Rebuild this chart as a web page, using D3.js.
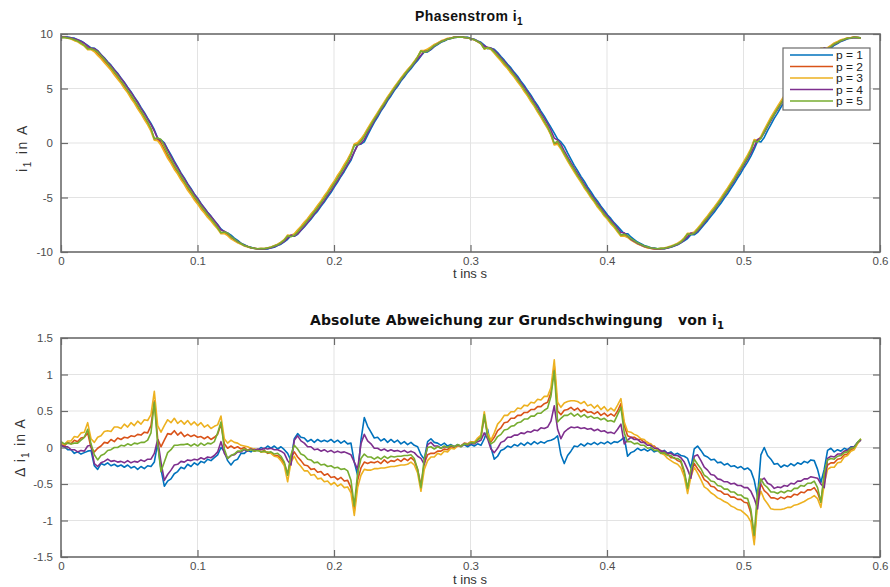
<!DOCTYPE html>
<html><head><meta charset="utf-8">
<script src="https://cdn.jsdelivr.net/npm/d3@7"></script>
<style>
body{margin:0;background:#fff;}
svg text{font-family:"Liberation Sans", Arial, Helvetica, sans-serif;}
</style></head><body>
<svg id="c" width="890" height="587"></svg>
<script>
// ---------- data ----------
const sampleStep = 0.293 / 120;   // s, sample spacing of the recorded curves
// fundamental (Grundschwingung) of i1 in A
const grund = [
 9.75,9.74,9.70,9.63,9.54,9.42,9.27,9.10,8.91,8.69,8.44,8.18,7.89,7.58,7.25,6.89,6.52,6.14,5.73,5.31,4.88,4.43,3.97,3.49,3.01,2.52,2.03,1.53,1.02,0.51,0.00,
 -0.51,-1.02,-1.53,-2.03,-2.52,-3.01,-3.49,-3.97,-4.43,-4.88,-5.31,-5.73,-6.14,-6.52,-6.89,-7.25,-7.58,-7.89,-8.18,-8.44,-8.69,-8.91,-9.10,-9.27,-9.42,-9.54,-9.63,-9.70,-9.74,-9.75,
 -9.74,-9.70,-9.63,-9.54,-9.42,-9.27,-9.10,-8.91,-8.69,-8.44,-8.18,-7.89,-7.58,-7.25,-6.89,-6.52,-6.14,-5.73,-5.31,-4.88,-4.43,-3.97,-3.49,-3.01,-2.52,-2.03,-1.53,-1.02,-0.51,0.00,
 0.51,1.02,1.53,2.03,2.52,3.01,3.49,3.97,4.43,4.88,5.31,5.73,6.14,6.52,6.89,7.25,7.58,7.89,8.18,8.44,8.69,8.91,9.10,9.27,9.42,9.54,9.63,9.70,9.74,9.75,
 9.74,9.70,9.63,9.54,9.42,9.27,9.10,8.91,8.69,8.44,8.18,7.89,7.58,7.25,6.89,6.52,6.14,5.73,5.31,4.88,4.43,3.97,3.49,3.01,2.52,2.03,1.53,1.02,0.51,0.00,
 -0.51,-1.02,-1.53,-2.03,-2.52,-3.01,-3.49,-3.97,-4.43,-4.88,-5.31,-5.73,-6.14,-6.52,-6.89,-7.25,-7.58,-7.89,-8.18,-8.44,-8.69,-8.91,-9.10,-9.27,-9.42,-9.54,-9.63,-9.70,-9.74,-9.75,
 -9.74,-9.70,-9.63,-9.54,-9.42,-9.27,-9.10,-8.91,-8.69,-8.44,-8.18,-7.89,-7.58,-7.25,-6.89,-6.52,-6.14,-5.73,-5.31,-4.88,-4.43,-3.97,-3.49,-3.01,-2.52,-2.03,-1.53,-1.02,-0.51,0.00,
 0.51,1.02,1.53,2.03,2.52,3.01,3.49,3.97,4.43,4.88,5.31,5.73,6.14,6.52,6.89,7.25,7.58,7.89,8.18,8.44,8.69,8.91,9.10,9.27,9.42,9.54,9.63,9.70,9.74,9.75
];
// deviation from the fundamental (Grundschwingung - i1) in A, per p
const dev_p1 = [
 0.03,0.01,-0.03,-0.03,-0.08,-0.06,-0.09,-0.07,-0.05,-0.04,
 -0.25,-0.30,-0.22,-0.24,-0.21,-0.25,-0.23,-0.26,-0.24,-0.27,
 -0.24,-0.28,-0.26,-0.30,-0.26,-0.29,-0.25,-0.26,-0.20,0.06,
 -0.30,-0.53,-0.46,-0.43,-0.36,-0.33,-0.27,-0.29,-0.23,-0.26,
 -0.21,-0.24,-0.19,-0.21,-0.16,-0.18,-0.14,-0.10,0.00,-0.05,
 -0.18,-0.24,-0.18,-0.16,-0.08,-0.08,-0.04,-0.06,-0.02,-0.04,
 0.00,-0.02,0.02,-0.01,0.02,-0.02,0.01,-0.03,-0.08,-0.18,
 0.12,0.19,0.14,0.13,0.08,0.11,0.07,0.11,0.08,0.10,
 0.08,0.11,0.07,0.10,0.06,0.09,0.05,0.06,-0.20,-0.38,
 0.10,0.41,0.29,0.21,0.13,0.14,0.09,0.12,0.07,0.11,
 0.07,0.10,0.05,0.08,0.04,0.07,0.03,0.01,-0.10,-0.16,
 0.08,0.12,0.07,0.06,0.03,0.06,0.02,0.04,0.01,0.04,
 0.01,0.04,0.01,0.04,0.02,0.05,0.03,0.12,0.25,0.00,
 -0.16,-0.12,-0.04,-0.02,0.02,0.00,0.04,0.02,0.06,0.03,
 0.07,0.04,0.08,0.05,0.08,0.06,0.09,0.10,0.12,0.16,
 -0.10,-0.22,-0.11,-0.05,0.02,0.01,0.05,0.02,0.06,0.04,
 0.07,0.04,0.07,0.05,0.08,0.05,0.08,0.07,0.10,0.14,
 -0.12,-0.07,-0.05,-0.01,-0.04,-0.02,-0.05,-0.02,-0.06,-0.04,
 -0.07,-0.04,-0.08,-0.06,-0.10,-0.08,-0.11,-0.12,-0.15,-0.28,
 -0.02,0.02,-0.04,-0.11,-0.13,-0.17,-0.16,-0.21,-0.20,-0.24,
 -0.22,-0.26,-0.25,-0.28,-0.26,-0.30,-0.28,-0.32,-0.45,-0.68,
 -0.10,0.00,-0.11,-0.16,-0.23,-0.22,-0.27,-0.24,-0.26,-0.22,
 -0.25,-0.21,-0.23,-0.19,-0.21,-0.17,-0.18,-0.30,-0.48,-0.30,
 -0.04,-0.01,-0.06,-0.03,-0.05,-0.01,-0.03,0.01,0.01,0.07,0.10
];
const dev_p2 = [
 0.04,0.02,0.07,0.05,0.10,0.08,0.13,0.14,0.20,0.00,
 -0.06,-0.01,0.02,0.07,0.06,0.11,0.08,0.13,0.11,0.14,
 0.13,0.16,0.15,0.18,0.17,0.21,0.20,0.30,0.64,0.12,
 0.01,0.10,0.19,0.18,0.23,0.17,0.21,0.15,0.18,0.15,
 0.17,0.14,0.15,0.12,0.15,0.11,0.14,0.18,0.32,0.05,
 -0.01,0.02,-0.01,0.01,-0.02,0.00,-0.04,-0.01,-0.05,-0.03,
 -0.06,-0.04,-0.08,-0.07,-0.11,-0.11,-0.15,-0.22,-0.36,-0.15,
 -0.06,-0.13,-0.18,-0.24,-0.25,-0.30,-0.29,-0.34,-0.33,-0.38,
 -0.36,-0.41,-0.40,-0.44,-0.41,-0.46,-0.45,-0.55,-0.87,-0.45,
 -0.28,-0.20,-0.22,-0.20,-0.21,-0.19,-0.22,-0.17,-0.21,-0.18,
 -0.19,-0.16,-0.19,-0.15,-0.18,-0.14,-0.18,-0.30,-0.52,-0.22,
 -0.10,-0.08,-0.08,-0.05,-0.05,-0.02,-0.03,0.01,0.00,0.03,
 0.02,0.06,0.05,0.08,0.07,0.11,0.14,0.42,0.18,0.08,
 0.14,0.23,0.27,0.34,0.35,0.40,0.40,0.44,0.44,0.48,
 0.48,0.52,0.52,0.56,0.56,0.60,0.62,0.75,1.12,0.50,
 0.45,0.51,0.52,0.55,0.51,0.54,0.49,0.52,0.48,0.49,
 0.46,0.49,0.44,0.47,0.43,0.46,0.43,0.50,0.60,0.30,
 0.16,0.14,0.14,0.11,0.11,0.07,0.07,0.02,0.02,-0.03,
 -0.04,-0.09,-0.09,-0.14,-0.14,-0.18,-0.20,-0.35,-0.56,-0.35,
 -0.22,-0.29,-0.35,-0.44,-0.47,-0.53,-0.54,-0.59,-0.60,-0.64,
 -0.64,-0.68,-0.68,-0.71,-0.71,-0.75,-0.76,-0.90,-1.27,-0.70,
 -0.50,-0.59,-0.63,-0.69,-0.69,-0.71,-0.68,-0.70,-0.67,-0.68,
 -0.64,-0.65,-0.61,-0.62,-0.58,-0.58,-0.55,-0.62,-0.75,-0.40,
 -0.24,-0.21,-0.21,-0.16,-0.15,-0.10,-0.09,-0.03,-0.01,0.06,0.11
];
const dev_p3 = [
 0.06,0.04,0.09,0.09,0.15,0.14,0.20,0.21,0.34,0.12,
 0.07,0.14,0.16,0.22,0.23,0.22,0.28,0.28,0.26,0.32,
 0.28,0.34,0.30,0.36,0.32,0.38,0.37,0.45,0.77,0.30,
 0.21,0.30,0.38,0.34,0.40,0.33,0.37,0.32,0.37,0.31,
 0.35,0.30,0.34,0.28,0.31,0.26,0.29,0.31,0.43,0.12,
 0.06,0.10,0.07,0.06,0.03,0.02,0.01,-0.01,-0.02,-0.03,
 -0.06,-0.06,-0.06,-0.08,-0.12,-0.13,-0.18,-0.25,-0.47,-0.20,
 -0.12,-0.21,-0.26,-0.32,-0.32,-0.38,-0.37,-0.43,-0.42,-0.47,
 -0.46,-0.51,-0.48,-0.53,-0.50,-0.55,-0.54,-0.62,-0.93,-0.55,
 -0.38,-0.30,-0.31,-0.31,-0.29,-0.29,-0.28,-0.28,-0.27,-0.26,
 -0.26,-0.25,-0.24,-0.24,-0.23,-0.20,-0.24,-0.35,-0.60,-0.30,
 -0.18,-0.13,-0.13,-0.08,-0.10,-0.05,-0.06,-0.01,-0.02,0.02,
 0.01,0.05,0.04,0.08,0.07,0.13,0.17,0.49,0.20,0.10,
 0.20,0.32,0.37,0.44,0.44,0.49,0.49,0.54,0.53,0.58,
 0.57,0.62,0.61,0.66,0.65,0.70,0.70,0.82,1.20,0.62,
 0.55,0.61,0.63,0.64,0.64,0.63,0.60,0.63,0.57,0.59,
 0.54,0.58,0.52,0.56,0.50,0.54,0.50,0.58,0.67,0.35,
 0.22,0.21,0.18,0.16,0.12,0.11,0.06,0.05,0.00,-0.03,
 -0.08,-0.10,-0.15,-0.18,-0.21,-0.23,-0.28,-0.40,-0.63,-0.40,
 -0.27,-0.35,-0.44,-0.54,-0.57,-0.62,-0.65,-0.69,-0.71,-0.74,
 -0.76,-0.80,-0.82,-0.85,-0.86,-0.90,-0.94,-1.02,-1.33,-0.75,
 -0.60,-0.71,-0.77,-0.84,-0.85,-0.85,-0.85,-0.84,-0.82,-0.82,
 -0.79,-0.78,-0.76,-0.74,-0.71,-0.69,-0.66,-0.70,-0.82,-0.50,
 -0.30,-0.27,-0.27,-0.21,-0.20,-0.13,-0.11,-0.05,-0.03,0.05,0.12
];
const dev_p4 = [
 0.03,0.01,0.01,-0.03,-0.03,-0.06,-0.04,-0.05,0.02,0.03,
 -0.22,-0.26,-0.21,-0.19,-0.16,-0.19,-0.18,-0.20,-0.19,-0.21,
 -0.18,-0.21,-0.19,-0.20,-0.17,-0.19,-0.16,-0.16,-0.08,0.11,
 -0.20,-0.45,-0.37,-0.31,-0.24,-0.23,-0.19,-0.20,-0.17,-0.18,
 -0.16,-0.17,-0.14,-0.16,-0.13,-0.14,-0.11,-0.06,0.08,-0.08,
 -0.15,-0.11,-0.10,-0.06,-0.06,-0.03,-0.05,-0.02,-0.04,-0.02,
 -0.03,-0.01,-0.02,-0.01,-0.03,-0.03,-0.05,-0.08,-0.18,-0.24,
 0.10,0.16,0.09,0.06,0.01,0.01,-0.03,-0.02,-0.05,-0.03,
 -0.06,-0.04,-0.07,-0.05,-0.07,-0.06,-0.08,-0.10,-0.20,-0.30,
 0.05,0.18,0.09,0.05,-0.01,-0.01,-0.04,-0.02,-0.05,-0.03,
 -0.05,-0.04,-0.06,-0.04,-0.07,-0.05,-0.07,-0.12,-0.15,-0.23,
 0.04,0.07,0.02,0.02,-0.01,0.01,0.00,0.02,0.01,0.03,
 0.02,0.05,0.03,0.06,0.05,0.08,0.10,0.20,0.12,-0.02,
 -0.07,-0.01,0.07,0.09,0.14,0.14,0.17,0.17,0.20,0.19,
 0.22,0.21,0.24,0.23,0.27,0.26,0.28,0.36,0.57,0.25,
 0.12,0.21,0.25,0.28,0.27,0.28,0.26,0.27,0.25,0.26,
 0.23,0.25,0.22,0.23,0.20,0.21,0.19,0.25,0.32,0.05,
 0.10,0.14,0.11,0.11,0.07,0.07,0.03,0.03,-0.01,-0.01,
 -0.05,-0.05,-0.08,-0.08,-0.11,-0.11,-0.14,-0.20,-0.30,-0.42,
 -0.12,-0.10,-0.18,-0.27,-0.31,-0.37,-0.38,-0.43,-0.44,-0.47,
 -0.47,-0.50,-0.49,-0.52,-0.52,-0.55,-0.55,-0.60,-0.70,-0.84,
 -0.45,-0.42,-0.49,-0.51,-0.56,-0.54,-0.55,-0.52,-0.53,-0.49,
 -0.50,-0.46,-0.46,-0.43,-0.43,-0.40,-0.41,-0.42,-0.50,-0.55,
 -0.15,-0.12,-0.13,-0.09,-0.09,-0.05,-0.04,0.00,0.01,0.07,0.10
];
const dev_p5 = [
 0.08,0.05,0.06,0.05,0.06,0.06,0.10,0.14,0.25,0.05,
 -0.10,-0.17,-0.11,-0.09,-0.04,-0.03,0.00,0.00,0.03,0.02,
 0.05,0.03,0.06,0.05,0.07,0.07,0.10,0.20,0.62,0.05,
 -0.33,-0.20,-0.07,-0.03,0.03,0.03,0.04,0.04,0.05,0.02,
 0.05,0.02,0.06,0.03,0.06,0.05,0.08,0.20,0.35,-0.02,
 -0.15,-0.11,-0.09,-0.05,-0.05,-0.02,-0.04,-0.03,-0.05,-0.04,
 -0.06,-0.05,-0.07,-0.06,-0.09,-0.08,-0.12,-0.20,-0.38,-0.10,
 0.03,-0.02,-0.09,-0.11,-0.16,-0.17,-0.21,-0.20,-0.24,-0.23,
 -0.26,-0.25,-0.28,-0.27,-0.30,-0.29,-0.32,-0.45,-0.80,-0.35,
 -0.15,-0.09,-0.13,-0.13,-0.16,-0.13,-0.16,-0.12,-0.15,-0.12,
 -0.13,-0.12,-0.12,-0.11,-0.11,-0.10,-0.15,-0.30,-0.55,-0.15,
 0.00,0.01,-0.02,0.01,-0.01,0.02,0.00,0.03,0.01,0.04,
 0.02,0.05,0.04,0.07,0.06,0.10,0.14,0.45,0.15,0.05,
 0.08,0.15,0.18,0.24,0.25,0.29,0.30,0.34,0.35,0.39,
 0.39,0.43,0.43,0.47,0.47,0.51,0.54,0.70,1.05,0.35,
 0.40,0.44,0.44,0.47,0.43,0.46,0.42,0.45,0.41,0.43,
 0.40,0.41,0.38,0.40,0.36,0.37,0.35,0.45,0.55,0.20,
 0.08,0.08,0.05,0.06,0.03,0.03,-0.01,0.00,-0.04,-0.04,
 -0.08,-0.07,-0.11,-0.11,-0.15,-0.15,-0.18,-0.32,-0.56,-0.30,
 -0.16,-0.23,-0.29,-0.38,-0.41,-0.46,-0.47,-0.52,-0.53,-0.57,
 -0.57,-0.61,-0.61,-0.65,-0.65,-0.69,-0.70,-0.85,-1.20,-0.60,
 -0.43,-0.51,-0.55,-0.61,-0.61,-0.63,-0.60,-0.62,-0.59,-0.60,
 -0.56,-0.56,-0.52,-0.53,-0.49,-0.49,-0.46,-0.55,-0.75,-0.35,
 -0.17,-0.15,-0.16,-0.12,-0.11,-0.07,-0.06,-0.01,0.00,0.07,0.12
];
const seriesNames  = ["p = 1", "p = 2", "p = 3", "p = 4", "p = 5"];
const seriesDev    = [dev_p1, dev_p2, dev_p3, dev_p4, dev_p5];
const seriesColors = ["#0072BD", "#D95319", "#EDB120", "#7E2F8E", "#77AC30"];
const xTicks      = [0, 0.1, 0.2, 0.3, 0.4, 0.5, 0.6];
const xTickLabels = ["0", "0.1", "0.2", "0.3", "0.4", "0.5", "0.6"];
const yTicksTop      = [-10, -5, 0, 5, 10];
const yTickLabelsTop = ["-10", "-5", "0", "5", "10"];
const yTicksBot      = [-1.5, -1, -0.5, 0, 0.5, 1, 1.5];
const yTickLabelsBot = ["-1.5", "-1", "-0.5", "0", "0.5", "1", "1.5"];

// ---------- drawing ----------
const svg = d3.select("#c");
const times = d3.range(grund.length).map(i => i * sampleStep);
const AX = "#6b6b6b", TXT = "#4d4d4d", GRID = "#e3e3e3";

function panel(cfg) {
  const x = d3.scaleLinear().domain([0, 0.6]).range([cfg.left, cfg.right]);
  const y = d3.scaleLinear().domain(cfg.ydom).range([cfg.bottom, cfg.top]);
  const g = svg.append("g");
  g.append("g").selectAll("line").data(xTicks.slice(1, -1)).join("line")
    .attr("x1", d => x(d)).attr("x2", d => x(d)).attr("y1", cfg.top).attr("y2", cfg.bottom)
    .attr("stroke", GRID).attr("stroke-width", 1);
  g.append("g").selectAll("line").data(cfg.yticks.slice(1, -1)).join("line")
    .attr("y1", d => y(d)).attr("y2", d => y(d)).attr("x1", cfg.left).attr("x2", cfg.right)
    .attr("stroke", GRID).attr("stroke-width", 1);
  const line = d3.line().x(d => x(d[0])).y(d => y(d[1]));
  cfg.series.forEach((vals, s) => {
    g.append("path").datum(times.map((t, i) => [t, vals[i]]))
      .attr("fill", "none").attr("stroke", seriesColors[s]).attr("stroke-width", 1.6)
      .attr("stroke-linejoin", "round").attr("d", line);
  });
  const fmtX = (d, i) => xTickLabels[i];
  const fmtY = (d, i) => cfg.ylabels[i];
  const styleAxis = a => {
    a.select(".domain").remove();
    a.selectAll("line").attr("stroke", AX).attr("stroke-width", 1.2);
    a.selectAll("text").attr("fill", TXT).attr("font-size", "11.5px")
      .attr("font-family", "Liberation Sans, Arial, sans-serif");
  };
  g.append("g").attr("transform", `translate(0,${cfg.bottom})`)
    .call(d3.axisBottom(x).tickValues(xTicks).tickFormat(fmtX).tickSize(-7).tickPadding(5)).call(styleAxis);
  g.append("g").attr("transform", `translate(0,${cfg.top})`)
    .call(d3.axisTop(x).tickValues(xTicks).tickFormat("").tickSize(-7)).call(styleAxis);
  g.append("g").attr("transform", `translate(${cfg.left},0)`)
    .call(d3.axisLeft(y).tickValues(cfg.yticks).tickFormat(fmtY).tickSize(-7).tickPadding(8)).call(styleAxis);
  g.append("g").attr("transform", `translate(${cfg.right},0)`)
    .call(d3.axisRight(y).tickValues(cfg.yticks).tickFormat("").tickSize(-7)).call(styleAxis);
  g.append("rect").attr("x", cfg.left).attr("y", cfg.top)
    .attr("width", cfg.right - cfg.left).attr("height", cfg.bottom - cfg.top)
    .attr("fill", "none").attr("stroke", AX).attr("stroke-width", 1.6);
  return {x, y, g};
}

// top panel: i1 = fundamental - deviation
const topPanel = panel({
  left: 61, right: 880, top: 34, bottom: 252, ydom: [-10, 10],
  yticks: yTicksTop, ylabels: yTickLabelsTop,
  series: seriesDev.map(dev => grund.map((v, i) => v - dev[i]))
});
const botPanel = panel({
  left: 61, right: 880, top: 338, bottom: 557, ydom: [-1.5, 1.5],
  yticks: yTicksBot, ylabels: yTickLabelsBot,
  series: seriesDev
});

function subText(sel, parts, size) {
  parts.forEach(p => {
    const ts = sel.append("tspan").text(p.t);
    if (p.sub) ts.attr("font-size", (size * 0.72) + "px").attr("dy", size * 0.3);
    else if (p.back) ts.attr("dy", -size * 0.3);
  });
}
// stretch a text to a target advance width by letter-spacing
function fitWidth(sel, target) {
  const w = sel.node().getComputedTextLength();
  const n = sel.text().length;
  sel.attr("letter-spacing", ((target - w) / n).toFixed(2) + "px");
}
const t1 = svg.append("text").attr("x", 415).attr("y", 21).attr("text-anchor", "start")
  .attr("font-weight", "bold").attr("font-size", "14px").attr("fill", "#111");
subText(t1, [{t: "Phasenstrom i"}, {t: "1", sub: true}], 14);
fitWidth(t1, 108);

const t2 = svg.append("text").attr("x", 310).attr("y", 325).attr("text-anchor", "start")
  .attr("font-weight", "bold").attr("font-size", "14px").attr("fill", "#111")
  .style("font-family", "'DejaVu Sans', 'Liberation Sans', sans-serif").style("white-space", "pre");
subText(t2, [{t: "Absolute Abweichung zur Grundschwingung   von i"}, {t: "1", sub: true}], 14);
fitWidth(t2, 414);

svg.append("text").attr("x", 470).attr("y", 278).attr("text-anchor", "middle")
  .attr("font-size", "13px").attr("fill", "#333").text("t ins s");
svg.append("text").attr("x", 470).attr("y", 584).attr("text-anchor", "middle")
  .attr("font-size", "13px").attr("fill", "#333").text("t ins s");
const yl1 = svg.append("text").attr("x", 0).attr("y", 0).attr("text-anchor", "start")
  .attr("font-size", "14px").attr("fill", "#333");
subText(yl1, [{t: "i"}, {t: "1", sub: true}, {t: " in A", back: true}], 14);
fitWidth(yl1, 48);
yl1.attr("transform", "translate(27,172) rotate(-90)");
const yl2 = svg.append("text").attr("x", 0).attr("y", 0).attr("text-anchor", "start")
  .attr("font-size", "14px").attr("fill", "#333");
subText(yl2, [{t: "\u0394 i"}, {t: "1", sub: true}, {t: " in A", back: true}], 14);
fitWidth(yl2, 59);
yl2.attr("transform", "translate(25,477) rotate(-90)");

const lg = svg.append("g");
lg.append("rect").attr("x", 783).attr("y", 48).attr("width", 87).attr("height", 62)
  .attr("fill", "#fff").attr("stroke", AX).attr("stroke-width", 1.2);
seriesNames.forEach((n, s) => {
  const yy = 55 + s * 11.5;
  lg.append("line").attr("x1", 790).attr("x2", 833).attr("y1", yy).attr("y2", yy)
    .attr("stroke", seriesColors[s]).attr("stroke-width", 1.6);
  lg.append("text").attr("x", 836).attr("y", yy + 4).attr("font-size", "11px")
    .attr("textLength", 27).attr("lengthAdjust", "spacingAndGlyphs").attr("fill", "#222").text(n);
});
</script>
</body></html>
